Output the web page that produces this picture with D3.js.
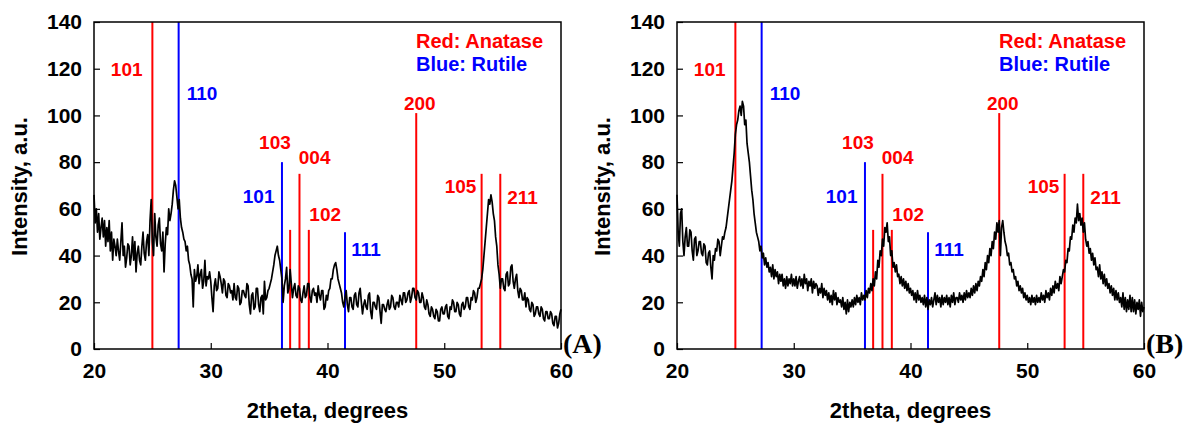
<!DOCTYPE html>
<html>
<head>
<meta charset="utf-8">
<script src="https://cdn.jsdelivr.net/npm/d3@7"></script>
<style>
body{margin:0;background:#fff;}
text{font-family:"Liberation Sans",Arial,sans-serif;font-weight:bold;}
</style>
</head>
<body>
<svg id="chart" width="1185" height="427"></svg>
<script>

//******************************************************************************
//**  Data
//******************************************************************************
var angleStart = 20, angleStep = 0.1;

//one row per degree, 20.0 .. 59.9, then 60.0
var intensityA = [
    66, 54, 60, 50, 58, 47, 52, 56, 48, 55,
    44, 52, 46, 55, 42, 50, 38, 47, 44, 40,
    47, 42, 38, 46, 54, 40, 44, 35, 39, 45,
    44, 36, 40, 48, 38, 46, 33, 41, 44, 38,
    36, 44, 50, 41, 38, 46, 49, 40, 55, 64,
    46, 40, 58, 48, 44, 53, 56, 45, 42, 50,
    33, 45, 52, 49, 60, 55, 58, 62, 68, 72,
    70, 65, 60, 64, 56, 52, 50, 47, 46, 42,
    44, 38, 36, 32, 30, 18, 34, 29, 31, 36,
    28, 32, 34, 26, 29, 38, 27, 31, 30, 33,
    29, 22, 16, 27, 30, 25, 26, 33, 31, 28,
    24, 30, 29, 23, 22, 28, 27, 24, 25, 21,
    28, 22, 21, 27, 26, 19, 20, 25, 25, 23,
    22, 28, 27, 19, 15, 23, 24, 17, 18, 26,
    26, 19, 16, 22, 23, 15, 29, 21, 22, 25,
    26, 28, 30, 33, 36, 40, 42, 44, 40, 38,
    34, 30, 20, 27, 30, 35, 24, 26, 34, 28,
    22, 26, 28, 23, 22, 27, 26, 21, 20, 24,
    27, 22, 23, 28, 28, 22, 20, 25, 26, 23,
    24, 20, 27, 23, 21, 25, 25, 17, 18, 23,
    21, 25, 26, 30, 30, 34, 36, 37, 34, 30,
    28, 26, 24, 20, 18, 22, 25, 19, 16, 22,
    22, 18, 17, 23, 24, 19, 18, 24, 26, 20,
    15, 19, 21, 18, 17, 23, 24, 16, 13, 20,
    20, 18, 17, 23, 22, 16, 11, 19, 19, 17,
    16, 19, 21, 17, 18, 23, 22, 18, 17, 20,
    20, 18, 23, 21, 19, 24, 24, 20, 21, 24,
    25, 20, 22, 26, 26, 22, 21, 25, 24, 20,
    20, 24, 22, 18, 17, 21, 19, 15, 14, 18,
    17, 14, 13, 17, 16, 12, 12, 17, 18, 15,
    15, 18, 19, 14, 13, 18, 17, 21, 20, 16,
    16, 20, 19, 15, 14, 19, 20, 17, 18, 22,
    22, 18, 17, 22, 21, 25, 24, 20, 22, 26,
    26, 28, 30, 34, 40, 46, 52, 58, 64, 62,
    66, 63, 58, 55, 48, 44, 36, 32, 26, 30,
    30, 26, 25, 32, 33, 27, 28, 35, 36, 29,
    26, 30, 32, 25, 22, 26, 25, 21, 21, 24,
    18, 22, 21, 17, 16, 20, 19, 14, 15, 18,
    18, 15, 14, 18, 17, 13, 12, 16, 16, 13,
    13, 16, 15, 11, 10, 14, 14, 9, 11, 15,
    17
];

var intensityB = [
    66, 50, 44, 58, 60, 46, 40, 48, 52, 44,
    44, 51, 50, 42, 38, 47, 48, 40, 42, 46,
    46, 41, 40, 45, 44, 37, 36, 41, 42, 35,
    30, 40, 38, 43, 42, 47, 46, 40, 44, 48,
    47, 50, 52, 56, 60, 64, 68, 72, 78, 84,
    92, 96, 98, 102, 104, 100, 106, 104, 96, 98,
    88, 84, 80, 74, 68, 64, 58, 54, 50, 48,
    46, 42, 44, 39, 41, 36, 39, 35, 37, 33,
    35, 31, 36, 30, 34, 31, 33, 28, 32, 29,
    32, 27, 30, 26, 31, 27, 30, 28, 32, 27,
    30, 27, 31, 26, 29, 31, 27, 30, 26, 32,
    28, 30, 25, 29, 27, 30, 24, 29, 26, 28,
    27, 23, 26, 24, 28, 22, 26, 23, 25, 21,
    24, 20, 23, 19, 25, 21, 24, 19, 22, 20,
    21, 18, 22, 17, 20, 15, 21, 16, 20, 18,
    21, 18, 22, 19, 23, 20, 22, 19, 24, 21,
    23, 21, 25, 22, 26, 24, 28, 25, 30, 27,
    33, 30, 38, 35, 42, 40, 47, 44, 52, 50,
    54, 46, 48, 40, 42, 35, 37, 33, 36, 31,
    32, 28, 31, 27, 30, 26, 29, 25, 28, 24,
    26, 23, 25, 21, 24, 20, 25, 21, 23, 20,
    22, 19, 23, 18, 22, 17, 21, 19, 22, 18,
    21, 24, 19, 23, 20, 22, 18, 23, 19, 22,
    20, 23, 19, 22, 18, 23, 20, 24, 19, 22,
    22, 20, 24, 21, 23, 20, 24, 21, 25, 22,
    24, 22, 26, 23, 27, 24, 28, 25, 29, 27,
    31, 29, 34, 31, 37, 34, 40, 37, 43, 40,
    46, 43, 50, 47, 54, 50, 55, 40, 52, 55,
    50, 46, 44, 40, 41, 36, 37, 33, 34, 30,
    31, 27, 29, 25, 27, 24, 26, 22, 24, 21,
    23, 20, 22, 19, 23, 20, 22, 19, 23, 20,
    22, 20, 24, 21, 23, 20, 25, 22, 24, 21,
    26, 23, 27, 24, 29, 26, 28, 25, 31, 28,
    31, 34, 33, 38, 37, 43, 42, 48, 47, 53,
    50, 56, 54, 62, 55, 58, 53, 56, 50, 54,
    47, 44, 46, 41, 43, 38, 41, 36, 39, 34,
    35, 31, 36, 30, 33, 28, 32, 27, 30, 26,
    28, 24, 27, 23, 26, 21, 25, 21, 24, 20,
    22, 18, 24, 17, 22, 16, 21, 17, 23, 16,
    22, 16, 21, 15, 20, 17, 21, 14, 20, 16,
    18
];

var anataseAngles  = [25.0, 36.8, 37.6, 38.4, 47.6, 53.2, 54.8];
var anataseHeights = [140, 51, 75, 51, 101, 75, 75];
var anataseLabels  = ["101", "103", "004", "102", "200", "105", "211"];
var anataseLabelX  = [22.8, 35.5, 38.9, 39.8, 47.9, 51.4, 56.7];
var anataseLabelY  = [117, 85.6, 79.2, 54.8, 102.3, 66.8, 62];

var rutileAngles  = [27.25, 36.1, 41.5];
var rutileHeights = [140, 80, 50];
var rutileLabels  = ["110", "101", "111"];
var rutileLabelX  = [29.25, 34.1, 43.3];
var rutileLabelY  = [106.6, 62.5, 40];

var xTicks = [20, 30, 40, 50, 60];
var yTicks = [0, 20, 40, 60, 80, 100, 120, 140];
var panelNames = ["(A)", "(B)"];
var legendLines = ["Red: Anatase", "Blue: Rutile"];


//******************************************************************************
//**  drawPanel
//******************************************************************************
var drawPanel = function(svg, left, values, name){

    var top = 22, width = 467, height = 327;
    var g = svg.append("g").attr("transform", "translate(" + left + "," + top + ")");

    var x = d3.scaleLinear().domain([20, 60]).range([0, width]);
    var y = d3.scaleLinear().domain([0, 140]).range([height, 0]);

  //Axes (ticks point inward)
    var styleAxis = function(a){
        a.select(".domain").remove();
        a.selectAll("text").attr("font-size", 21).attr("fill", "#000")
         .attr("font-family", "'Liberation Sans',Arial,sans-serif");
        a.selectAll("line").attr("stroke", "#000").attr("stroke-width", 1.2);
    };

    g.append("g")
      .attr("transform", "translate(0," + height + ")")
      .call(d3.axisBottom(x).tickValues(xTicks).tickSizeInner(-6).tickSizeOuter(0).tickPadding(14))
      .call(styleAxis);

    g.append("g")
      .call(d3.axisLeft(y).tickValues(yTicks).tickSizeInner(-6).tickSizeOuter(0).tickPadding(12))
      .call(styleAxis);


  //Reference lines
    var addRefs = function(angles, heights, labels, lx, ly, color){
        g.append("g").selectAll("line")
          .data(angles).enter().append("line")
          .attr("x1", function(d){ return x(d); })
          .attr("x2", function(d){ return x(d); })
          .attr("y1", y(0))
          .attr("y2", function(d, i){ return y(heights[i]); })
          .attr("stroke", color).attr("stroke-width", 2);

        g.append("g").selectAll("text")
          .data(labels).enter().append("text")
          .attr("x", function(d, i){ return x(lx[i]); })
          .attr("y", function(d, i){ return y(ly[i]); })
          .attr("text-anchor", "middle")
          .attr("font-size", 19)
          .attr("fill", color)
          .text(function(d){ return d; });
    };
    addRefs(anataseAngles, anataseHeights, anataseLabels, anataseLabelX, anataseLabelY, "#ff0000");
    addRefs(rutileAngles, rutileHeights, rutileLabels, rutileLabelX, rutileLabelY, "#0000ff");


  //Pattern
    var line = d3.line()
      .x(function(d, i){ return x(angleStart + i * angleStep); })
      .y(function(d){ return y(d); });

    g.append("path")
      .datum(values)
      .attr("d", line)
      .attr("fill", "none")
      .attr("stroke", "#000")
      .attr("stroke-width", 1.7)
      .attr("stroke-linejoin", "round");


  //Frame
    g.append("rect")
      .attr("width", width).attr("height", height)
      .attr("fill", "none").attr("stroke", "#000").attr("stroke-width", 1.5);


  //Legend
    g.selectAll(".legend")
      .data(legendLines).enter().append("text")
      .attr("x", width - 145)
      .attr("y", function(d, i){ return 26 + i * 23; })
      .attr("font-size", 20)
      .attr("fill", function(d, i){ return i === 0 ? "#ff0000" : "#0000ff"; })
      .text(function(d){ return d; });


  //Titles
    g.append("text")
      .attr("x", width / 2).attr("y", height + 69)
      .attr("text-anchor", "middle").attr("font-size", 22)
      .text("2theta, degrees");

    g.append("text")
      .attr("transform", "translate(-67," + (height / 2 + 1) + ") rotate(-90)")
      .attr("text-anchor", "middle").attr("font-size", 22)
      .text("Intensity, a.u.");

    g.append("text")
      .attr("x", width + 2).attr("y", height + 4)
      .attr("font-size", 28)
      .style("font-family", "'Liberation Serif','Times New Roman',serif")
      .text(name);
};


var svg = d3.select("#chart");
drawPanel(svg, 94, intensityA, panelNames[0]);
drawPanel(svg, 677, intensityB, panelNames[1]);

</script>
</body>
</html>
